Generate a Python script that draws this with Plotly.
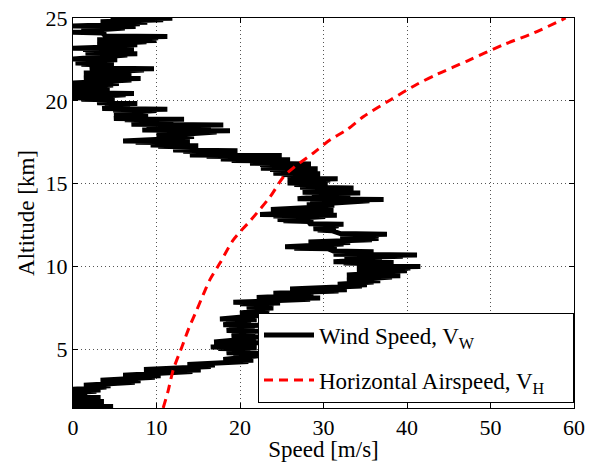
import plotly.graph_objects as go

# Wind speed profile (zig-zag trace), altitude [km] and speed [m/s]
wind_alt = [
    25.00, 24.98, 24.94, 24.90, 24.78, 24.74, 24.70, 24.66,
    24.52, 24.48, 24.44, 24.40, 24.22, 24.18, 24.14, 24.10,
    23.92, 23.88, 23.84, 23.80, 23.68, 23.64, 23.60, 23.56,
    23.42, 23.38, 23.34, 23.30, 23.18, 23.14, 23.10, 23.06,
    22.88, 22.84, 22.80, 22.76, 22.52, 22.48, 22.44, 22.40,
    22.28, 22.24, 22.20, 22.16, 21.98, 21.94, 21.90, 21.86,
    21.68, 21.64, 21.60, 21.56, 21.38, 21.34, 21.30, 21.26,
    21.08, 21.04, 21.00, 20.96, 20.78, 20.74, 20.70, 20.66,
    20.48, 20.44, 20.40, 20.36, 20.18, 20.14, 20.10, 20.06,
    19.88, 19.84, 19.80, 19.76, 19.53, 19.49, 19.45, 19.41,
    19.23, 19.19, 19.15, 19.11, 18.93, 18.89, 18.85, 18.81,
    18.58, 18.54, 18.50, 18.46, 18.23, 18.19, 18.15, 18.11,
    17.88, 17.84, 17.80, 17.76, 17.58, 17.54, 17.50, 17.46,
    17.33, 17.29, 17.25, 17.21, 17.03, 16.99, 16.95, 16.91,
    16.73, 16.69, 16.65, 16.61, 16.48, 16.44, 16.40, 16.36,
    16.23, 16.19, 16.15, 16.11, 15.93, 15.89, 15.85, 15.81,
    15.63, 15.59, 15.55, 15.51, 15.33, 15.29, 15.25, 15.21,
    15.03, 14.99, 14.95, 14.91, 14.78, 14.74, 14.70, 14.66,
    14.48, 14.44, 14.40, 14.36, 14.08, 14.04, 14.00, 13.96,
    13.73, 13.69, 13.65, 13.61, 13.43, 13.39, 13.35, 13.31,
    13.13, 13.09, 13.05, 13.01, 12.83, 12.79, 12.75, 12.71,
    12.58, 12.54, 12.50, 12.46, 12.28, 12.24, 12.20, 12.16,
    11.98, 11.94, 11.90, 11.86, 11.73, 11.69, 11.65, 11.61,
    11.48, 11.44, 11.40, 11.36, 11.18, 11.14, 11.10, 11.06,
    10.93, 10.89, 10.85, 10.81, 10.73, 10.69, 10.65, 10.61,
    10.53, 10.49, 10.45, 10.41, 10.28, 10.24, 10.20, 10.16,
    10.03, 9.99, 9.95, 9.91, 9.78, 9.74, 9.70, 9.66,
    9.48, 9.44, 9.40, 9.36, 9.18, 9.14, 9.10, 9.06,
    8.93, 8.89, 8.85, 8.81, 8.63, 8.59, 8.55, 8.51,
    8.38, 8.34, 8.30, 8.26, 8.13, 8.09, 8.05, 8.01,
    7.83, 7.79, 7.75, 7.71, 7.53, 7.49, 7.45, 7.41,
    7.18, 7.14, 7.10, 7.06, 6.83, 6.79, 6.75, 6.71,
    6.48, 6.44, 6.40, 6.36, 6.13, 6.09, 6.05, 6.01,
    5.78, 5.74, 5.70, 5.66, 5.43, 5.39, 5.35, 5.31,
    5.13, 5.09, 5.05, 5.01, 4.78, 4.74, 4.70, 4.66,
    4.38, 4.34, 4.30, 4.26, 4.08, 4.04, 4.00, 3.96,
    3.78, 3.74, 3.70, 3.66, 3.43, 3.39, 3.35, 3.31,
    3.13, 3.09, 3.05, 3.01, 2.83, 2.79, 2.75, 2.71,
    2.58, 2.54, 2.50, 2.46, 2.38, 2.34, 2.30, 2.26,
    2.13, 2.09, 2.05, 2.01, 1.88, 1.84, 1.80, 1.76,
    1.58, 1.54, 1.50, 1.45,
]
wind_speed = [
    6.0, 11.9, 4.5, 10.8, 3.3, 8.9, 4.2, 8.0,
    0.0, 7.5, 1.5, 6.2, 1.0, 4.0, 0.0, 3.5,
    3.9, 11.3, 5.0, 10.2, 2.9, 10.0, 4.0, 8.8,
    2.9, 7.7, 3.5, 6.8, 0.0, 7.3, 1.2, 6.0,
    1.5, 7.7, 2.5, 6.5, 0.0, 5.3, 0.8, 4.6,
    0.3, 4.9, 1.0, 4.2, 2.0, 9.7, 3.0, 8.5,
    1.3, 7.0, 2.2, 6.2, 1.3, 8.1, 2.5, 7.0,
    0.0, 5.5, 1.0, 4.8, 0.0, 4.4, 0.5, 3.8,
    0.0, 7.3, 1.2, 6.3, 0.0, 5.0, 1.0, 4.3,
    2.9, 7.7, 3.8, 6.8, 3.5, 11.3, 4.8, 10.0,
    4.9, 9.0, 5.5, 8.2, 4.9, 13.3, 6.2, 12.0,
    7.0, 18.0, 8.8, 16.5, 8.3, 18.8, 10.0, 17.2,
    10.0, 14.5, 10.8, 13.8, 6.0, 14.0, 7.5, 12.8,
    9.3, 15.0, 10.2, 14.2, 12.0, 19.7, 13.2, 18.5,
    14.0, 25.0, 16.0, 23.5, 17.7, 26.0, 19.0, 25.0,
    21.2, 28.5, 22.4, 27.3, 22.5, 29.3, 23.6, 28.4,
    24.0, 29.6, 25.0, 28.8, 25.7, 31.7, 26.6, 30.8,
    25.7, 30.5, 26.5, 29.8, 27.2, 33.6, 28.2, 32.6,
    27.5, 34.4, 28.6, 33.2, 26.9, 37.2, 28.4, 35.5,
    28.0, 31.3, 28.6, 30.8, 23.7, 31.2, 25.0, 30.0,
    22.4, 31.6, 24.0, 30.2, 24.5, 28.8, 25.2, 28.2,
    28.4, 32.4, 29.0, 31.8, 28.8, 31.5, 29.3, 31.0,
    32.0, 37.6, 33.0, 36.6, 32.0, 36.6, 32.8, 35.8,
    28.2, 33.2, 29.0, 32.4, 25.4, 31.6, 26.5, 30.6,
    31.2, 36.0, 32.0, 35.2, 31.2, 41.2, 32.8, 39.5,
    32.5, 37.0, 33.2, 36.2, 31.2, 38.4, 32.4, 37.2,
    34.0, 41.6, 35.2, 40.4, 34.0, 40.0, 35.0, 39.0,
    32.8, 39.2, 33.8, 38.2, 32.8, 36.8, 33.5, 36.0,
    31.7, 35.2, 32.3, 34.6, 26.0, 32.8, 27.2, 31.8,
    24.0, 28.8, 24.8, 28.0, 22.0, 29.6, 23.2, 28.4,
    19.2, 24.8, 20.0, 24.0, 20.8, 24.0, 21.3, 23.5,
    20.0, 23.5, 20.6, 23.0, 17.6, 22.0, 18.3, 21.3,
    18.0, 22.4, 18.7, 21.7, 18.4, 22.4, 19.0, 21.8,
    19.0, 22.4, 19.5, 21.9, 16.9, 22.4, 17.8, 21.6,
    16.5, 22.0, 17.4, 21.2, 18.4, 24.0, 19.2, 23.2,
    18.0, 21.6, 18.6, 21.0, 13.7, 17.0, 14.2, 16.5,
    8.5, 15.3, 9.5, 14.3, 6.0, 10.5, 6.7, 9.8,
    3.3, 8.1, 4.0, 7.4, 1.3, 4.5, 1.8, 4.0,
    0.0, 3.3, 0.5, 2.8, 0.0, 1.7, 0.3, 1.4,
    0.0, 3.3, 0.5, 2.8, 0.0, 3.7, 0.5, 3.2,
    0.0, 4.8, 0.6, 4.2,
]

# Horizontal airspeed profile
air_alt = [1.45, 2.5, 3.75, 5.15, 6.3, 7.4, 8.3, 9.2, 10.2, 11.6, 12.8, 14.2, 15.4, 16.0, 16.85,
           17.65, 18.25, 19.05, 20.05, 21.0, 21.6, 22.4, 23.4, 24.1, 25.0]
air_speed = [10.8, 11.4, 12.0, 13.05, 13.9, 14.85, 15.6, 16.4, 17.6, 19.2, 21.3, 23.6, 25.2, 26.5, 28.8,
             30.8, 32.8, 34.8, 38.0, 41.2, 43.6, 47.2, 51.6, 55.2, 59.0]

x_ticks = [0, 10, 20, 30, 40, 50, 60]
y_ticks = [5, 10, 15, 20, 25]

FONT = "Liberation Serif"
NB = "\u00a0"

fig = go.Figure()
fig.add_trace(go.Scatter(x=wind_speed, y=wind_alt, mode="lines",
                         line=dict(color="black", width=5),
                         name="Wind Speed, V<sub>W</sub>", legendgroup="a"))
fig.add_trace(go.Scatter(x=air_speed, y=air_alt, mode="lines",
                         line=dict(color="#ff0000", width=3, dash="9px,6px", shape="spline", smoothing=0.8),
                         name="Horizontal Airspeed, V<sub>H</sub>" + NB * 4, legendgroup="b"))

axis_common = dict(showline=True, linecolor="black", linewidth=1, mirror="ticks",
                   ticks="inside", ticklen=5, tickcolor="black", automargin=False,
                   showgrid=True, gridcolor="#555555", griddash="1px,3px", gridwidth=1,
                   zeroline=False, tickfont=dict(family=FONT, size=22, color="black"))

fig.update_xaxes(range=[0, 60], tickvals=x_ticks, ticktext=[str(v) for v in x_ticks],
                 ticklabelstandoff=0,
                 title=dict(text="Speed [m/s]", font=dict(family=FONT, size=23, color="black"), standoff=3),
                 **axis_common)
fig.update_yaxes(range=[1.45, 25], tickvals=y_ticks, ticktext=[str(v) for v in y_ticks],
                 ticklabelstandoff=0,
                 title=dict(text="Altitude [km]", font=dict(family=FONT, size=23, color="black"), standoff=4),
                 **axis_common)

fig.update_layout(width=589, height=462, autosize=False,
                  margin=dict(l=73, r=15, t=18, b=54),
                  plot_bgcolor="white", paper_bgcolor="white",
                  font=dict(family=FONT, size=23, color="black"),
                  legend=dict(x=1, y=0.014, xanchor="right", yanchor="bottom",
                              bgcolor="white", bordercolor="black", borderwidth=1,
                              font=dict(family=FONT, size=23, color="black"),
                              traceorder="grouped", tracegroupgap=12, itemwidth=50))

fig.write_html("out.html")
